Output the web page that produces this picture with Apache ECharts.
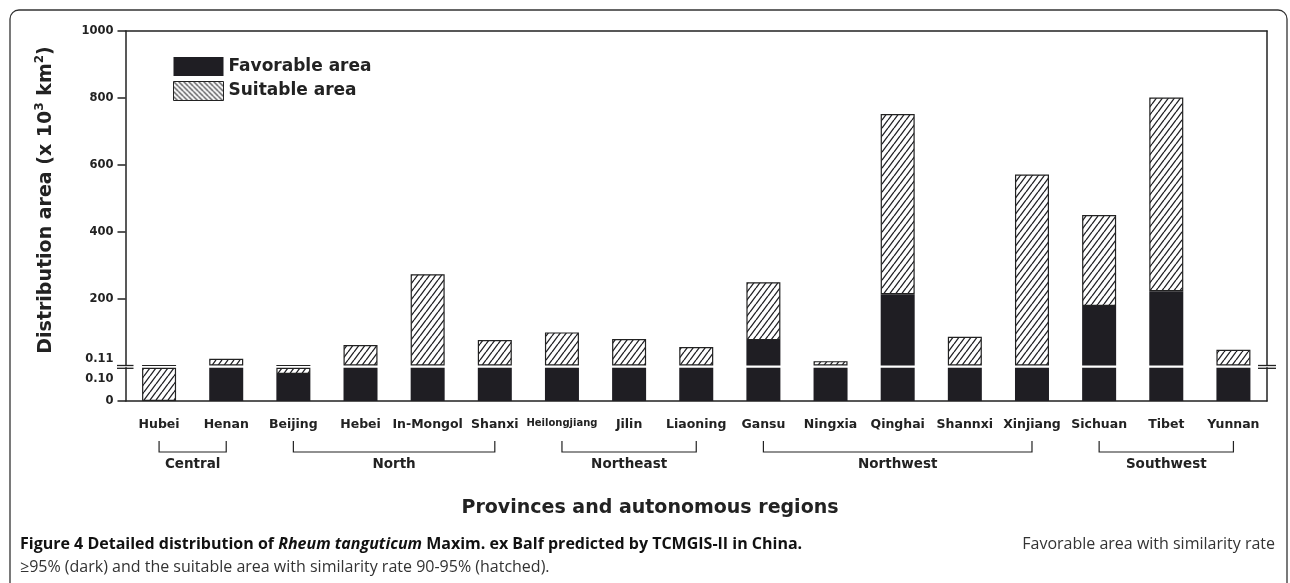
<!DOCTYPE html>
<html>
<head>
<meta charset="utf-8">
<script src="https://cdn.jsdelivr.net/npm/echarts@6/dist/echarts.min.js"></script>
<style>
html,body{margin:0;padding:0;background:#fff;}
#chart{width:1290px;height:583px;}
</style>
</head>
<body>
<div id="chart"></div>
<script>
// ---- data (x 10^3 km^2) ----
const categories = ['Hubei','Henan','Beijing','Hebei','In-Mongol','Shanxi','Heilongjiang','Jilin','Liaoning','Gansu','Ningxia','Qinghai','Shannxi','Xinjiang','Sichuan','Tibet','Yunnan'];
const favorable = [0, 0.1, 0.081, 0.1, 0.1, 0.1, 0.1, 0.1, 0.1, 76, 0.1, 213, 0.1, 0.1, 178, 222, 0.1];
const suitable  = [0.105, 20, 0.025, 61, 273, 76, 99, 79, 55, 173, 13, 539, 86, 571, 272, 579, 47];
const groups = [
  {name:'Central', from:0, to:1},
  {name:'North', from:2, to:5},
  {name:'Northeast', from:6, to:8},
  {name:'Northwest', from:9, to:13},
  {name:'Southwest', from:14, to:16}
];
const upperTicks = [0, 200, 400, 600, 800, 1000];
const lowerTicks = [0, 0.1];
const breakLow = 0.10;   // top of the lower axis segment

// ---- split values across the broken axis ----
const favLo = favorable.map(v => Math.min(v, breakLow));
const suitLo = favorable.map((f, i) => {
  const d = Math.min(f + suitable[i], breakLow) - Math.min(f, breakLow);
  return d > 1e-9 ? d : null;
});
const favHi = favorable.map(v => Math.max(0, v - breakLow));
const suitHi = favorable.map((f, i) => {
  const d = Math.max(0, f + suitable[i] - breakLow) - Math.max(0, f - breakLow);
  return d > 1e-9 ? d : null;
});

// ---- hatch patterns ----
function hatch(forward, w, h, lw) {
  const c = document.createElement('canvas');
  c.width = w; c.height = h;
  const g = c.getContext('2d');
  g.fillStyle = '#fff'; g.fillRect(0, 0, w, h);
  g.strokeStyle = '#1e1e22'; g.lineWidth = lw;
  for (let k = -1; k <= 1; k++) {
    g.beginPath();
    if (forward) { g.moveTo(k * w, h); g.lineTo(k * w + w, 0); }
    else { g.moveTo(k * w, 0); g.lineTo(k * w + w, h); }
    g.stroke();
  }
  return {image: c, repeat: 'repeat'};
}
const barHatch = hatch(true, 6, 8, 1.3);
const legendHatch = hatch(false, 5, 5, 1.1);
const dark = '#1f1e23';
const ink = '#222';
const F = 'DejaVu Sans';

const L = 125.5, R = 1267, T = 31, MID1 = 365.5, MID2 = 367.7, B = 401;

const chart = echarts.init(document.getElementById('chart'), null, {renderer: 'canvas'});

const hiddenAxis = {show: true, axisLine: {show: true, onZero: false, lineStyle: {color: ink, width: 1.5}}, axisTick: {show: false}, axisLabel: {show: false}, splitLine: {show: false}};

const option = {
  animation: false,
  backgroundColor: '#fff',
  grid: [
    {left: L, right: 1290 - R, top: T, height: MID1 - T},
    {left: L, right: 1290 - R, top: MID2, height: B - MID2}
  ],
  xAxis: [
    Object.assign({type: 'category', data: categories, gridIndex: 0, position: 'top'}, hiddenAxis),
    {
      type: 'category', data: categories, gridIndex: 1, position: 'bottom',
      axisLine: {onZero: false, lineStyle: {color: ink, width: 1.5}},
      axisTick: {alignWithLabel: true, length: 7, lineStyle: {color: ink, width: 1.5}},
      axisLabel: {
        interval: 0, margin: 17, color: ink, fontFamily: F, fontWeight: 'bold', fontSize: 12.5,
        formatter: v => v === 'Heilongjiang' ? '{s|' + v + '}' : v,
        rich: {s: {fontSize: 10, fontFamily: F, fontWeight: 'bold', color: ink}}
      }
    }
  ],
  yAxis: [
    {
      type: 'value', gridIndex: 0, position: 'left', min: 0, max: 1000, interval: 200,
      axisLine: {show: true, onZero: false, lineStyle: {color: ink, width: 1.5}},
      axisTick: {show: true, length: 8, customValues: upperTicks.slice(1), lineStyle: {color: ink, width: 1.5}},
      axisLabel: {
        margin: 12, color: ink, fontFamily: F, fontWeight: 'bold', fontSize: 11.5,
        customValues: upperTicks,
        formatter: v => v === 0 ? '{u|0.11}' : String(v),
        rich: {u: {fontFamily: F, fontWeight: 'bold', fontSize: 11.5, color: ink, padding: [0, 0, 12, 0]}}
      },
      splitLine: {show: false}
    },
    Object.assign({type: 'value', gridIndex: 0, position: 'right', min: 0, max: 1000}, hiddenAxis),
    {
      type: 'value', gridIndex: 1, position: 'left', min: 0, max: breakLow, interval: 0.1,
      axisLine: {show: true, onZero: false, lineStyle: {color: ink, width: 1.5}},
      axisTick: {show: true, length: 8, customValues: [0], lineStyle: {color: ink, width: 1.5}},
      axisLabel: {
        margin: 12, color: ink, fontFamily: F, fontWeight: 'bold', fontSize: 11.5,
        customValues: lowerTicks,
        formatter: v => v === 0 ? '0' : '{d|0.10}',
        rich: {d: {fontFamily: F, fontWeight: 'bold', fontSize: 11.5, color: ink, padding: [22, 0, 0, 0]}}
      },
      splitLine: {show: false}
    },
    Object.assign({type: 'value', gridIndex: 1, position: 'right', min: 0, max: breakLow}, hiddenAxis)
  ],
  legend: {
    orient: 'vertical', left: 173, top: 57, padding: 0, itemGap: 5,
    itemWidth: 50, itemHeight: 19, icon: 'rect', selectedMode: false,
    textStyle: {fontFamily: F, fontWeight: 'bold', fontSize: 17, color: ink},
    data: [
      {name: 'Favorable area', itemStyle: {color: dark, borderWidth: 0}},
      {name: 'Suitable area', itemStyle: {color: legendHatch, borderColor: ink, borderWidth: 1}}
    ]
  },
  series: [
    {name: 'Favorable area', type: 'bar', xAxisIndex: 1, yAxisIndex: 2, stack: 'lo', barWidth: 34, data: favLo,
      itemStyle: {color: dark}},
    {name: 'Suitable area', type: 'bar', xAxisIndex: 1, yAxisIndex: 2, stack: 'lo', barWidth: 34, data: suitLo,
      itemStyle: {color: barHatch, borderColor: ink, borderWidth: 1.2}},
    {name: 'Favorable area', type: 'bar', xAxisIndex: 0, yAxisIndex: 0, stack: 'hi', barWidth: 34, data: favHi,
      itemStyle: {color: dark}},
    {name: 'Suitable area', type: 'bar', xAxisIndex: 0, yAxisIndex: 0, stack: 'hi', barWidth: 34, data: suitHi,
      itemStyle: {color: barHatch, borderColor: ink, borderWidth: 1.2}}
  ],
  graphic: [
    {type: 'rect', shape: {x: 10, y: 10, width: 1277, height: 620, r: 9}, silent: true,
      style: {fill: 'none', stroke: '#333', lineWidth: 1.3}},
    // axis break marks
    {type: 'line', shape: {x1: L - 8.5, y1: MID1, x2: L + 8, y2: MID1}, style: {stroke: ink, lineWidth: 1.3}},
    {type: 'line', shape: {x1: L - 8.5, y1: MID2 + 0.6, x2: L + 8, y2: MID2 + 0.6}, style: {stroke: ink, lineWidth: 1.3}},
    {type: 'line', shape: {x1: R - 9, y1: MID1, x2: R + 9, y2: MID1}, style: {stroke: ink, lineWidth: 1.3}},
    {type: 'line', shape: {x1: R - 9, y1: MID2 + 0.6, x2: R + 9, y2: MID2 + 0.6}, style: {stroke: ink, lineWidth: 1.3}},
    // y-axis title
    {type: 'text', x: 46, y: 200, rotation: Math.PI / 2,
      style: {
        text: '{a|Distribution area (x 10}{s|3}{a| km}{s|2}{a|)}',
        align: 'center', verticalAlign: 'middle',
        rich: {
          a: {fontFamily: F, fontWeight: 'bold', fontSize: 19, fill: ink, lineHeight: 25},
          s: {fontFamily: F, fontWeight: 'bold', fontSize: 12, fill: ink, verticalAlign: 'top'}
        }
      }},
    // x-axis title
    {type: 'text', x: 650, y: 508,
      style: {text: 'Provinces and autonomous regions', align: 'center', verticalAlign: 'middle',
        fontFamily: F, fontWeight: 'bold', fontSize: 19, fill: ink}},
    // caption
    {type: 'text', x: 20, y: 544,
      style: {
        text: '{b|Figure 4 Detailed distribution of }{bi|Rheum tanguticum}{b| Maxim. ex Balf predicted by TCMGIS-II in China.}',
        align: 'left', verticalAlign: 'middle',
        rich: {
          b: {fontFamily: 'Open Sans', fontWeight: 'bold', fontSize: 16, fill: '#111'},
          bi: {fontFamily: 'Open Sans', fontWeight: 'bold', fontStyle: 'italic', fontSize: 16, fill: '#111'}
        }
      }},
    {type: 'text', x: 1275, y: 544,
      style: {text: 'Favorable area with similarity rate', align: 'right', verticalAlign: 'middle',
        fontFamily: 'Open Sans', fontSize: 16, fill: '#333'}},
    {type: 'text', x: 20, y: 567,
      style: {text: '\u226595% (dark) and the suitable area with similarity rate 90-95% (hatched).', align: 'left', verticalAlign: 'middle',
        fontFamily: 'Open Sans', fontSize: 16, fill: '#333'}}
  ]
};
chart.setOption(option);

// ---- region brackets under the category labels ----
const br = [];
groups.forEach((g, k) => {
  const x1 = chart.convertToPixel({xAxisIndex: 1}, g.from);
  const x2 = chart.convertToPixel({xAxisIndex: 1}, g.to);
  const yTop = 441, yBot = 452;
  br.push({type: 'polyline', id: 'br' + k, silent: true,
    shape: {points: [[x1, yTop], [x1, yBot], [x2, yBot], [x2, yTop]]},
    style: {stroke: ink, lineWidth: 1.2, fill: 'none'}});
  br.push({type: 'text', id: 'bt' + k, x: (x1 + x2) / 2, y: 464,
    style: {text: g.name, align: 'center', verticalAlign: 'middle', fontFamily: F, fontWeight: 'bold', fontSize: 13.5, fill: ink}});
});
chart.setOption({graphic: option.graphic.concat(br)});
</script>
</body>
</html>
